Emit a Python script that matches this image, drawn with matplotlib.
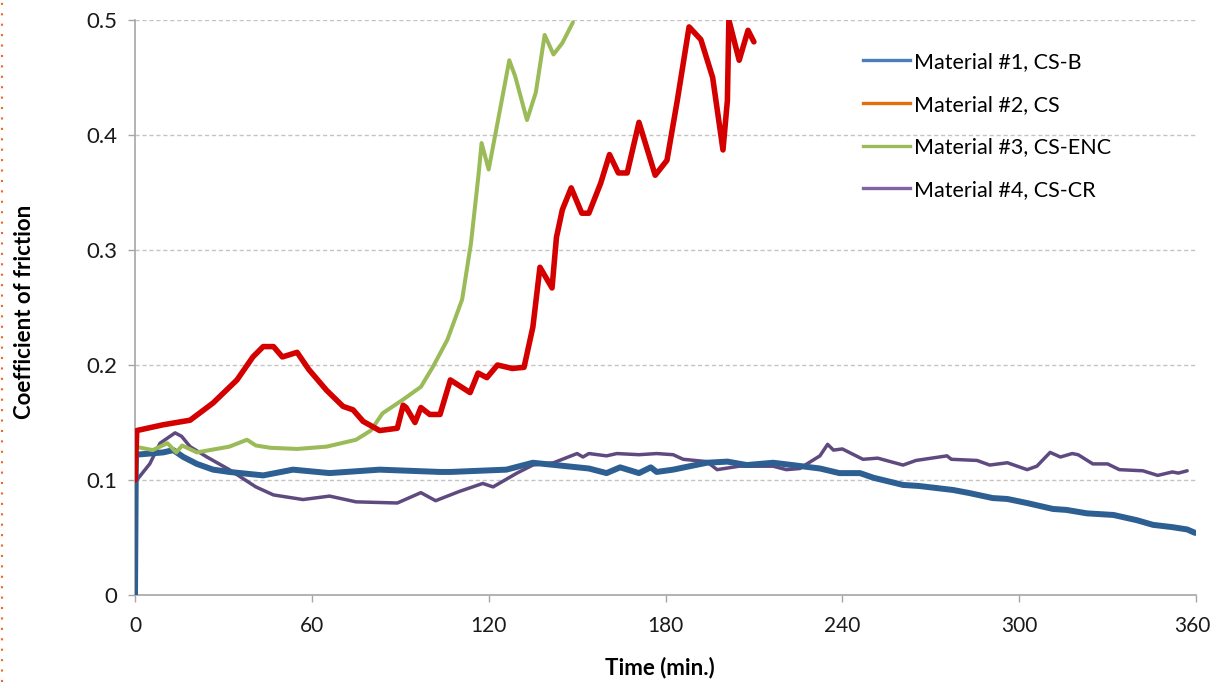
import matplotlib
matplotlib.use("Agg")
import matplotlib.pyplot as plt
import matplotlib.transforms as mtransforms
from matplotlib.lines import Line2D

plt.rcParams['font.family'] = ['Lato', 'DejaVu Sans']

# Material #1, CS-B
x1 = [0, 0.3, 5, 9.6, 13, 16.4, 21, 26.5, 32, 43.5, 53.6, 66, 83, 103.5, 107, 126,
      135, 154, 160, 164.6, 171, 175, 177, 182.6, 194, 201, 207.6, 216.5, 223, 232.4,
      239, 246, 250.5, 260.6, 266, 272, 277.6, 283, 291, 296, 302.6, 311.5, 316, 323,
      332, 340, 345.4, 352, 357, 359.7]
y1 = [0.0, 0.122, 0.123, 0.124, 0.126, 0.120, 0.114, 0.109, 0.107, 0.104, 0.109, 0.106,
      0.109, 0.107, 0.107, 0.109, 0.115, 0.110, 0.106, 0.111, 0.106, 0.111, 0.107, 0.109,
      0.115, 0.116, 0.113, 0.115, 0.113, 0.110, 0.106, 0.106, 0.102, 0.0957, 0.0948,
      0.093, 0.0913, 0.0887, 0.0843, 0.0835, 0.080, 0.0748, 0.074, 0.071, 0.0696, 0.065,
      0.061, 0.059, 0.057, 0.054]

# Material #2, CS
x2 = [0, 0.6, 9.5, 18.7, 26.5, 34.6, 40, 43.5, 47, 50, 55, 59, 65, 70.6, 74, 77.4, 83,
      89, 91, 92, 95, 97, 100, 103.5, 107, 113.7, 116.4, 119.4, 123, 128, 132, 135,
      137.4, 141.5, 143, 145, 148, 151.6, 154, 158, 161, 164, 167, 171, 176.5, 180.5,
      184, 188, 192, 196, 199.5, 201, 201.5, 205, 208, 210]
y2 = [0.10, 0.143, 0.148, 0.152, 0.167, 0.187, 0.207, 0.216, 0.216, 0.207, 0.211, 0.196,
      0.178, 0.164, 0.161, 0.151, 0.143, 0.145, 0.165, 0.163, 0.150, 0.163, 0.157, 0.157,
      0.187, 0.176, 0.193, 0.189, 0.200, 0.197, 0.198, 0.233, 0.285, 0.267, 0.311, 0.335,
      0.354, 0.332, 0.332, 0.358, 0.383, 0.367, 0.367, 0.411, 0.365, 0.378, 0.430, 0.494,
      0.483, 0.450, 0.387, 0.430, 0.500, 0.465, 0.491, 0.481]

# Material #3, CS-ENC
x3 = [0, 6, 11, 14, 16, 21, 32, 38, 41, 46, 55, 65, 75, 80, 84, 91, 97, 101, 106, 111,
      114, 116.5, 117.6, 120, 124, 127, 129, 133, 136, 139, 142, 145, 148.6]
y3 = [0.129, 0.126, 0.132, 0.124, 0.130, 0.124, 0.129, 0.135, 0.130, 0.128, 0.127,
      0.129, 0.135, 0.143, 0.158, 0.170, 0.181, 0.198, 0.222, 0.257, 0.306, 0.364, 0.393,
      0.370, 0.424, 0.465, 0.451, 0.413, 0.437, 0.487, 0.470, 0.480, 0.498]

# Material #4, CS-CR
x4 = [0, 5, 8.5, 13.6, 15.8, 18.7, 24.4, 32, 41, 47, 57, 66, 75, 89, 97, 102, 107, 110,
      118, 121.5, 129.6, 135, 142, 150, 152, 154, 160, 163.5, 171, 177, 182.6, 186, 194,
      197.5, 205, 216.5, 221, 225.6, 228, 232.4, 235, 237, 240, 247, 252, 260.6, 265,
      275.5, 277, 285.7, 290, 296, 302.7, 306, 310.5, 314, 318, 320, 325, 330, 334, 342,
      347, 352, 354, 357]
y4 = [0.098, 0.114, 0.132, 0.141, 0.138, 0.129, 0.120, 0.109, 0.094, 0.087, 0.083,
      0.086, 0.081, 0.080, 0.089, 0.082, 0.087, 0.090, 0.097, 0.094, 0.106, 0.113, 0.115,
      0.123, 0.120, 0.123, 0.121, 0.123, 0.122, 0.123, 0.122, 0.118, 0.116, 0.109, 0.112,
      0.112, 0.109, 0.110, 0.114, 0.121, 0.131, 0.126, 0.127, 0.118, 0.119, 0.113, 0.117,
      0.121, 0.118, 0.117, 0.113, 0.115, 0.109, 0.112, 0.124, 0.120, 0.123, 0.122, 0.114,
      0.114, 0.109, 0.108, 0.104, 0.107, 0.106, 0.108]

labels = ["Material #1, CS-B", "Material #2, CS", "Material #3, CS-ENC", "Material #4, CS-CR"]
line_colors = ["#2d5f92", "#d40000", "#9bbb59", "#5f4a80"]
legend_colors = ["#4a7ebb", "#e46c0a", "#9bbb59", "#8064a2"]
widths = [4.3, 4.0, 2.9, 2.5]

fig = plt.figure(figsize=(12.12, 6.82), dpi=100)
ax = fig.add_axes([135 / 1212, 87 / 682, 1061 / 1212, 575 / 682])

series = [(x1, y1), (x2, y2), (x3, y3), (x4, y4)]
# draw purple/blue below the others like the original
for i in [3, 0, 2, 1]:
    xs, ys = series[i]
    ax.plot(xs, ys, color=line_colors[i], lw=widths[i], solid_joinstyle='round',
            solid_capstyle='round', zorder=3)

ax.set_xlim(0, 360)
ax.set_ylim(0, 0.5)
ax.set_xticks(range(0, 361, 60))
ax.set_yticks([0, 0.1, 0.2, 0.3, 0.4, 0.5])
ax.set_yticklabels(["0", "0.1", "0.2", "0.3", "0.4", "0.5"])
ax.yaxis.grid(True, color="#c4c4c4", ls=(0, (3, 2)), lw=1.0)
ax.set_axisbelow(True)

for s in ["top", "right"]:
    ax.spines[s].set_visible(False)
for s in ["left", "bottom"]:
    ax.spines[s].set_color("#a6a6a6")
    ax.spines[s].set_linewidth(1.2)
ax.tick_params(axis="both", colors="#a6a6a6", labelcolor="#1a1a1a",
               labelsize=16, length=5, width=1)
ax.tick_params(axis="x", pad=10, labelsize=15)
ax.tick_params(axis="y", pad=8)

# keep the last x label inside the canvas
last = ax.get_xticklabels()[-1]
last.set_transform(last.get_transform() +
                   mtransforms.ScaledTranslation(-4 / 100, 0, fig.dpi_scale_trans))

fig.text(660 / 1212, 1 - 668 / 682, "Time (min.)", ha="center", va="center",
         fontsize=16, fontweight="bold")
fig.text(25 / 1212, 1 - 312 / 682, "Coefficient of friction", ha="center", va="center",
         rotation=90, fontsize=16, fontweight="bold")

handles = [Line2D([], [], color=c, lw=2.4) for c in legend_colors]
leg = ax.legend(handles, labels, loc="upper left",
                bbox_to_anchor=(863 / 1212, 1 - 52 / 682), bbox_transform=fig.transFigure,
                frameon=False, fontsize=15.5, handlelength=2.2, handletextpad=0.15,
                labelspacing=1.05, borderpad=0, borderaxespad=0)

# dotted page border on the far left
fig.add_artist(Line2D([2 / 1212, 2 / 1212], [0, 1], transform=fig.transFigure,
                      color="#f26522", ls=(0, (1, 4)), lw=1.5))

fig.savefig("out.png", dpi=100)
